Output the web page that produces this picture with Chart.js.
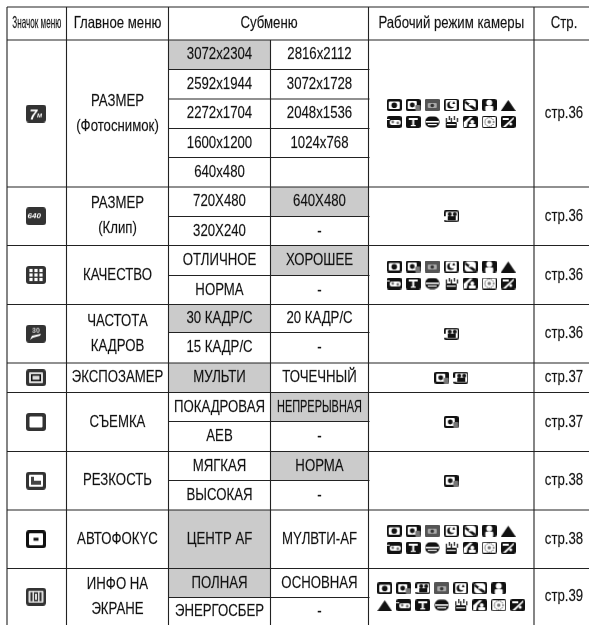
<!DOCTYPE html>
<html lang="ru">
<head>
<meta charset="UTF-8">
<title>Меню камеры</title>
<script src="https://cdn.jsdelivr.net/npm/chart.js"></script>
<style>
    html, body { margin: 0; padding: 0; background: #fff; }
    canvas { display: block; }
</style>
</head>
<body>
<canvas id="menuChart" width="589" height="625"></canvas>
<script>
// table content
const headers = ['Значок меню', 'Главное меню', 'Субменю', 'Рабочий режим камеры', 'Стр.'];
const menuIcons = ['m7', 'm640', 'mGrid', 'm30', 'mMeter', 'mShot', 'mSharp', 'mAf', 'mInfo'];
const menuNames = [
    ['РАЗМЕР', '(Фотоснимок)'], ['РАЗМЕР', '(Клип)'], ['КАЧЕСТВО'], ['ЧАСТОТА', 'КАДРОВ'], ['ЭКСПОЗАМЕР'],
    ['СЪЕМКА'], ['РЕЗКОСТЬ'], ['АВТОФОКYС'], ['ИНФО НА', 'ЭКРАНЕ']
];
const subOptions = [
    [['3072x2304', '2816x2112'], ['2592x1944', '3072x1728'], ['2272x1704', '2048x1536'], ['1600x1200', '1024x768'], ['640x480', '']],
    [['720X480', '640X480'], ['320X240', '-']],
    [['ОТЛИЧНОЕ', 'ХОРОШЕЕ'], ['НОРМА', '-']],
    [['30 КАДР/С', '20 КАДР/С'], ['15 КАДР/С', '-']],
    [['МУЛЬТИ', 'ТОЧЕЧНЫЙ']],
    [['ПОКАДРОВАЯ', 'НЕПРЕРЫВНАЯ'], ['АЕВ', '-']],
    [['МЯГКАЯ', 'НОРМА'], ['ВЫСОКАЯ', '-']],
    [['ЦЕНТР AF', 'МYЛВТИ-AF']],
    [['ПОЛНАЯ', 'ОСНОВНАЯ'], ['ЭНЕРГОСБЕР', '-']]
];
// section, row, column of the shaded default options
const selectedCells = [[0, 0, 0], [1, 0, 1], [2, 0, 1], [3, 0, 0], [4, 0, 0], [5, 0, 1], [6, 0, 1], [7, 0, 0], [8, 0, 0]];
const allModes = [['cam', 'camP', 'shake', 'night', 'macro', 'portrait', 'land'], ['sport', 'text', 'beach', 'lamp', 'kids', 'fire', 'back']];
const modeIcons = [
    allModes, [['video']], allModes, [['video']], [['camP', 'video']], [['camP']], [['camP']], allModes,
    [['cam', 'camP', 'video', 'shake', 'night', 'macro', 'portrait'], ['land', 'sport', 'text', 'beach', 'lamp', 'kids', 'fire', 'back']]
];
const pages = ['стр.36', 'стр.36', 'стр.36', 'стр.36', 'стр.37', 'стр.37', 'стр.38', 'стр.38', 'стр.39'];

// table geometry, in axis units
const colEdges = [7, 66.5, 168.5, 270.5, 368.5, 534, 594];
const rowEdges = [7, 40, 69.5, 99, 128.5, 157.5, 187, 216.5, 245.5, 275.5, 304.5, 332.5, 363, 392.5, 421.5, 451.5, 480.5, 510, 568.5, 597.5, 625];
const subLineEnd = 369.5;
const iconPitch = 19;
const iconRowGap = 17;
const menuLineGap = 25;

// pictograms: little canvases handed to the library as point styles
function makeIcon(w, h, draw) {
    const c = document.createElement('canvas');
    c.width = w;
    c.height = h;
    const g = c.getContext('2d');
    draw(g, w, h);
    return c;
}
function box(g, x, y, w, h, r, color) {
    g.fillStyle = color;
    g.beginPath();
    g.roundRect(x, y, w, h, r);
    g.fill();
}
function dot(g, x, y, r, color) {
    g.fillStyle = color;
    g.beginPath();
    g.arc(x, y, r, 0, Math.PI * 2);
    g.fill();
}
function poly(g, pts, color) {
    g.fillStyle = color;
    g.beginPath();
    pts.forEach((p, i) => i ? g.lineTo(p[0], p[1]) : g.moveTo(p[0], p[1]));
    g.fill();
}
const B = '#111', W = '#fff', G = '#777';
function modeIcon(draw) {
    return makeIcon(15, 12, (g, w, h) => {
        box(g, 0, 0, w, h, 2, B);
        draw(g);
    });
}
function menuIcon(w, h, draw) {
    return makeIcon(w, h, g => {
        box(g, 0, 0, w, h, 3, '#333');
        draw(g);
    });
}
const icons = {
    cam: modeIcon(g => { box(g, 2, 2.5, 11, 7.5, 1, W); dot(g, 7.5, 6.2, 2.8, B); }),
    camP: modeIcon(g => { box(g, 2, 2, 9, 8, 1, W); dot(g, 6.5, 6, 2.4, B); box(g, 9.5, 6, 5, 6, 1, G); }),
    video: modeIcon(g => { box(g, 2, 1.5, 12, 9, 1, W); dot(g, 6, 4, 2, B); dot(g, 11, 4, 2, B); box(g, 4, 6, 8, 4, 0, B); box(g, 0, 6, 2, 4, 0, W); }),
    shake: modeIcon(g => { box(g, 0, 0, 15, 12, 2, '#555'); box(g, 3, 4, 9, 5, 1, '#aaa'); dot(g, 7.5, 6.5, 1.8, '#333'); }),
    night: modeIcon(g => { box(g, 2, 1, 11, 10, 1, W); dot(g, 7, 6, 3.6, B); dot(g, 8.8, 5, 3, W); poly(g, [[10, 2], [11.5, 5], [8.5, 5]], B); }),
    macro: modeIcon(g => { box(g, 2, 1, 11, 10, 3, W); poly(g, [[3, 2], [13, 9], [11, 11], [2, 4]], B); box(g, 6, 5, 3, 1.5, 0, W); }),
    portrait: modeIcon(g => { dot(g, 7.5, 3.8, 3, W); box(g, 3.5, 7, 8, 5, 1, W); }),
    land: makeIcon(15, 12, g => { box(g, 0, 0, 15, 12, 1, W); poly(g, [[0, 12], [7.5, 1], [15, 12]], B); }),
    sport: modeIcon(g => { box(g, 3, 4, 11, 5, 2, W); dot(g, 6, 6, 1.4, G); dot(g, 11, 7, 1.4, G); box(g, 0, 3, 3, 1, 0, W); }),
    text: modeIcon(g => { box(g, 3, 2, 9, 2, 0, W); box(g, 6.5, 2, 2, 8, 0, W); box(g, 5, 9, 5, 1.2, 0, W); }),
    beach: makeIcon(15, 12, g => { box(g, 0.5, 0.5, 14, 11, 5, B); box(g, 1, 5, 13, 1.6, 0, W); box(g, 3, 8, 9, 1.2, 0, W); }),
    lamp: makeIcon(15, 12, g => {
        box(g, 2, 6, 11, 6, 1, B);
        box(g, 3, 8, 9, 1.2, 0, W);
        [2, 5, 7, 10, 13].forEach((x, i) => box(g, x, i % 2 ? 0 : 2, 1.2, 4, 0, B));
    }),
    kids: modeIcon(g => { poly(g, [[1, 11], [1, 6], [7, 1], [10, 1], [5, 6], [4, 11]], W); dot(g, 9.5, 6, 2, W); box(g, 6, 8, 7, 3, 1, W); }),
    fire: modeIcon(g => {
        box(g, 1, 1, 13, 10, 1, W);
        g.strokeStyle = B;
        g.setLineDash([1, 1]);
        g.beginPath();
        g.arc(7.5, 6, 4.4, 0, Math.PI * 2);
        g.stroke();
        g.setLineDash([]);
        dot(g, 7.5, 6, 1.8, G);
    }),
    back: modeIcon(g => { poly(g, [[2, 11], [13, 1], [13, 3], [5, 11]], W); box(g, 2, 2, 6, 2, 0, W); dot(g, 10, 8, 1.5, W); }),

    m7: menuIcon(20, 18, g => {
        g.fillStyle = W;
        g.font = 'italic bold 14px "Liberation Sans"';
        g.fillText('7', 3.5, 14.5);
        g.font = 'italic bold 6px "Liberation Sans"';
        g.fillText('M', 11, 13);
    }),
    m640: menuIcon(20, 18, g => {
        g.fillStyle = W;
        g.font = 'italic bold 8px "Liberation Sans"';
        g.fillText('640', 1.5, 11);
    }),
    mGrid: menuIcon(20, 18, g => {
        [5, 10, 15].forEach(x => [4.5, 9, 13.5].forEach(y => box(g, x - 1.6, y - 1.6, 3.2, 3.2, 0, W)));
    }),
    m30: menuIcon(20, 18, g => {
        g.fillStyle = '#ccc';
        g.font = 'bold 7px "Liberation Sans"';
        g.fillText('30', 6, 8);
        poly(g, [[4, 15], [6, 11], [15, 9], [14, 11], [7, 13]], W);
    }),
    mMeter: menuIcon(20, 17, g => { box(g, 3, 3, 14, 11, 1, '#ddd'); box(g, 5, 5, 10, 7, 0, B); box(g, 6.5, 6.5, 7, 4, 0, '#ddd'); }),
    mShot: menuIcon(20, 18, g => { box(g, 3.5, 3.5, 13, 11, 1, W); }),
    mSharp: menuIcon(20, 18, g => { box(g, 3, 3, 14, 12, 1, W); poly(g, [[5, 5], [8, 5], [8, 9], [15, 9], [15, 13], [5, 13]], '#444'); }),
    mAf: makeIcon(20, 18, g => { box(g, 0, 0, 20, 18, 3, B); box(g, 3, 3, 14, 12, 1, W); box(g, 7.5, 7.5, 5, 3, 0, B); }),
    mInfo: menuIcon(20, 18, g => { box(g, 2.5, 3, 15, 12, 1, '#ddd'); box(g, 4.5, 4.5, 2, 9, 0, '#333'); box(g, 13.5, 4.5, 2, 9, 0, '#333'); box(g, 8, 4.5, 4, 9, 0, '#333'); box(g, 9, 6, 2, 6, 0, '#ddd'); })
};

// row helpers
const sectionRows = [];
let rowCursor = 1;
subOptions.forEach(rows => {
    sectionRows.push({ first: rowCursor, last: rowCursor + rows.length });
    rowCursor += rows.length;
});
const sectionMiddle = s => (rowEdges[sectionRows[s].first] + rowEdges[sectionRows[s].last]) / 2;
const colMiddle = c => (colEdges[c] + colEdges[c + 1]) / 2;

// grid lines, null points break the segments
function segments(list) {
    const out = [];
    list.forEach(s => out.push({ x: s[0], y: s[1] }, { x: s[2], y: s[3] }, { x: null, y: null }));
    return out;
}
const sectionLines = [];
const subLines = [];
sectionRows.forEach(r => {
    sectionLines.push([colEdges[0], rowEdges[r.first], 589, rowEdges[r.first]]);
    for (let i = r.first + 1; i < r.last; i++) {
        subLines.push([colEdges[2], rowEdges[i], subLineEnd, rowEdges[i]]);
    }
});
sectionLines.push([colEdges[0], rowEdges[0], 589, rowEdges[0]]);
const colLines = colEdges.slice(0, 6).map((x, i) => [x, i === 3 ? rowEdges[1] : rowEdges[0], x, 625]);

const lineSet = (list, color, width) => ({
    data: segments(list), showLine: true, pointRadius: 0, spanGaps: false,
    borderColor: color, borderWidth: width, order: 2
});

// shaded cells
const cellSets = selectedCells.map(sel => {
    const r = sectionRows[sel[0]].first + sel[1];
    const x0 = colEdges[2 + sel[2]], x1 = colEdges[3 + sel[2]];
    const y0 = rowEdges[r], y1 = rowEdges[r + 1];
    return {
        data: [{ x: x0, y: y0 }, { x: x1, y: y0 }, { x: x1, y: y1 }, { x: x0, y: y1 }],
        showLine: true, pointRadius: 0, borderWidth: 0, fill: 'shape',
        backgroundColor: '#cbcbcb', order: 3
    };
});

// icon points
const iconPoints = [];
menuIcons.forEach((name, s) => iconPoints.push({ x: 36, y: sectionMiddle(s), icon: name }));
modeIcons.forEach((rows, s) => {
    const widest = Math.max(...rows.map(r => r.length));
    const startX = colMiddle(4) - (widest - 1) * iconPitch / 2;
    const startY = sectionMiddle(s) - (rows.length - 1) * iconRowGap / 2;
    rows.forEach((row, ri) => row.forEach((name, ci) => {
        iconPoints.push({ x: startX + ci * iconPitch, y: startY + ri * iconRowGap, icon: name });
    }));
});

// table text, drawn at scale positions
const squeeze = 0.8;
const fitWidth = { 'Значок меню': 49, 'НЕПРЕРЫВНАЯ': 85 };
const tableText = {
    id: 'tableText',
    afterDatasetsDraw(chart) {
        const ctx = chart.ctx;
        const sx = chart.scales.x, sy = chart.scales.y;
        const put = (text, x, y) => {
            if (!text) return;
            const width = fitWidth[text] || ctx.measureText(text).width * squeeze;
            const px = sx.getPixelForValue(x), py = sy.getPixelForValue(y);
            ctx.fillText(text, px, py, width);
            ctx.strokeText(text, px, py, width);
        };
        ctx.save();
        ctx.font = '16.5px "Liberation Sans"';
        ctx.fillStyle = '#111';
        ctx.strokeStyle = 'rgba(17,17,17,0.5)';
        ctx.lineWidth = 0.3;
        ctx.textAlign = 'center';
        ctx.textBaseline = 'middle';
        const headY = (rowEdges[0] + rowEdges[1]) / 2;
        put(headers[0], colMiddle(0), headY);
        put(headers[1], colMiddle(1), headY);
        put(headers[2], colEdges[3] - 1.5, headY);
        put(headers[3], colMiddle(4), headY);
        put(headers[4], colMiddle(5), headY);
        menuNames.forEach((lines, s) => {
            const top = sectionMiddle(s) - (lines.length - 1) * menuLineGap / 2;
            lines.forEach((line, i) => put(line, colMiddle(1), top + i * menuLineGap));
            put(pages[s], colMiddle(5), sectionMiddle(s));
            subOptions[s].forEach((cells, r) => {
                const row = sectionRows[s].first + r;
                const y = (rowEdges[row] + rowEdges[row + 1]) / 2;
                cells.forEach((cell, c) => put(cell, colMiddle(2 + c), y));
            });
        });
        ctx.restore();
    }
};

new Chart(document.getElementById('menuChart'), {
    type: 'scatter',
    data: {
        datasets: [
            ...cellSets,
            lineSet(colLines, '#222', 1.1),
            lineSet(sectionLines, '#222', 1.1),
            lineSet(subLines, '#222', 1.1),
            {
                data: iconPoints,
                pointRadius: 8,
                pointStyle: c => icons[c.raw.icon],
                order: 1
            }
        ]
    },
    options: {
        responsive: false,
        animation: false,
        events: [],
        layout: { padding: 0, autoPadding: false },
        plugins: { legend: { display: false }, tooltip: { enabled: false } },
        scales: {
            x: { type: 'linear', min: 0, max: 589, display: false },
            y: { type: 'linear', min: 0, max: 625, reverse: true, display: false }
        }
    },
    plugins: [tableText]
});
</script>
</body>
</html>
